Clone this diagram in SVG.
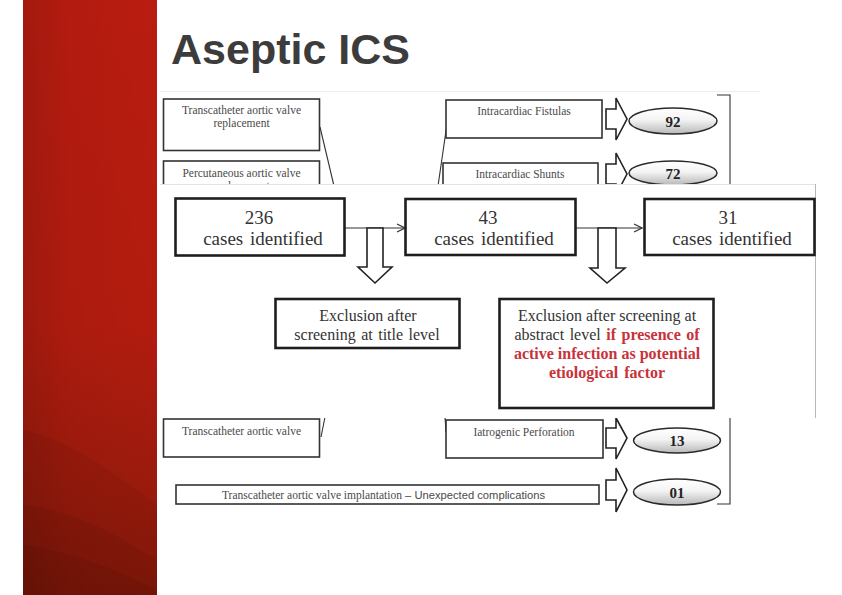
<svg xmlns="http://www.w3.org/2000/svg" width="842" height="595" viewBox="0 0 842 595">
<defs>
<linearGradient id="redV" x1="0" y1="0" x2="0" y2="1">
<stop offset="0" stop-color="#b91c10"/>
<stop offset="0.55" stop-color="#b21c0f"/>
<stop offset="1" stop-color="#8a1a0a"/>
</linearGradient>
<linearGradient id="redH" x1="0" y1="0" x2="1" y2="0">
<stop offset="0" stop-color="#000" stop-opacity="0.12"/>
<stop offset="0.35" stop-color="#000" stop-opacity="0.03"/>
<stop offset="1" stop-color="#000" stop-opacity="0"/>
</linearGradient>
<linearGradient id="ellG" x1="0" y1="0" x2="0" y2="1">
<stop offset="0" stop-color="#ffffff"/>
<stop offset="0.45" stop-color="#f4f4f4"/>
<stop offset="1" stop-color="#b8b8b8"/>
</linearGradient>
<marker id="open" markerWidth="10" markerHeight="10" refX="9" refY="5" orient="auto" markerUnits="userSpaceOnUse">
<path d="M1,1 L9,5 L1,9" fill="none" stroke="#333" stroke-width="1.2"/>
</marker>
</defs>
<style>
.bg{fill:#fff}
.sbox{fill:#fff;stroke:#333;stroke-width:1.6}
.fbox{fill:#fff;stroke:#1e1e1e;stroke-width:2.6}
.st{font-family:"Liberation Serif","Times New Roman",serif;font-size:11.5px;fill:#4a4a4a;text-anchor:middle}
.ft{font-family:"Liberation Serif","Times New Roman",serif;font-size:19px;fill:#333;text-anchor:middle}
.et{font-family:"Liberation Serif","Times New Roman",serif;font-size:16px;fill:#333;text-anchor:middle}
.red{fill:#c8323a;font-weight:bold}
.num{font-family:"Liberation Serif","Times New Roman",serif;font-size:15px;font-weight:bold;fill:#222;text-anchor:middle}
.ell{fill:url(#ellG);stroke:#2a2a2a;stroke-width:1.5}
.blk{fill:#fff;stroke:#222;stroke-width:1.6;stroke-linejoin:miter}
.ln{fill:none;stroke:#333;stroke-width:1.1}
.arr{fill:none;stroke:#333;stroke-width:1.2;marker-end:url(#open)}
</style>
<rect x="0" y="0" width="842" height="595" class="bg"/>
<g id="stripe">
<rect x="23" y="0" width="134" height="595" fill="url(#redV)"/>
<path d="M23,430 C70,440 110,470 157,505 L157,595 L23,595 Z" fill="#000" fill-opacity="0.05"/>
<path d="M23,505 C70,510 110,530 157,560 L157,595 L23,595 Z" fill="#000" fill-opacity="0.06"/>
<path d="M23,545 C60,550 110,565 157,590 L157,595 L23,595 Z" fill="#000" fill-opacity="0.06"/>
<rect x="23" y="0" width="134" height="595" fill="url(#redH)"/>
</g>
<g id="title">
<text x="171" y="64" font-family="'Liberation Sans',Arial,sans-serif" font-size="43" font-weight="bold" fill="#3c3c3c">Aseptic ICS</text>
</g>
<g id="background-figure">
<line x1="160" y1="91.5" x2="760" y2="91.5" stroke="#eeeeee" stroke-width="1"/>
<g id="connectors-bg">
<line class="ln" x1="320" y1="127" x2="334" y2="186"/>
<line class="ln" x1="447" y1="124" x2="438" y2="186"/>
<line class="ln" x1="325" y1="417" x2="321" y2="437"/>
<line class="ln" x1="445" y1="417" x2="446" y2="432"/>
<path class="ln" d="M717,95 L730,95 L730,504 L717,504"/>
<path class="blk" d="M606,109 L616,109 L616,98 L627,119 L616,140 L616,129 L606,129 Z"/>
<path class="blk" d="M606,164 L616,164 L616,153 L627,174 L616,195 L616,184 L606,184 Z"/>
<path class="blk" d="M606,428 L616,428 L616,418 L627,438 L616,459 L616,448 L606,448 Z"/>
<path class="blk" d="M606,480 L616,480 L616,468 L627,490 L616,512 L616,500 L606,500 Z"/>
</g>
<g id="tavr">
<rect class="sbox" x="163.5" y="99" width="156" height="51.5"/>
<text class="st" x="241.5" y="114">Transcatheter aortic valve</text>
<text class="st" x="241.5" y="127">replacement</text>
</g>
<g id="pavr">
<rect class="sbox" x="163.5" y="161" width="156" height="50"/>
<text class="st" x="241.5" y="177">Percutaneous aortic valve</text>
<text class="st" x="241.5" y="190">replacement</text>
</g>
<g id="fistulas">
<rect class="sbox" x="446" y="100" width="156" height="38"/>
<text class="st" x="524" y="115">Intracardiac Fistulas</text>
</g>
<g id="n92">
<ellipse class="ell" cx="673" cy="121" rx="44" ry="13"/>
<text class="num" x="673" y="126.5">92</text>
</g>
<g id="shunts">
<rect class="sbox" x="443" y="163" width="155" height="38"/>
<text class="st" x="520" y="178">Intracardiac Shunts</text>
</g>
<g id="n72">
<ellipse class="ell" cx="673" cy="173" rx="44" ry="12"/>
<text class="num" x="673" y="178.5">72</text>
</g>
<g id="tav">
<rect class="sbox" x="163.5" y="419" width="156" height="38"/>
<text class="st" x="241.5" y="435">Transcatheter aortic  valve</text>
</g>
<g id="perforation">
<rect class="sbox" x="446" y="420" width="157" height="38"/>
<text class="st" x="524" y="436">Iatrogenic Perforation</text>
</g>
<g id="n13">
<ellipse class="ell" cx="677" cy="440.5" rx="43.5" ry="12.5"/>
<text class="num" x="677" y="446">13</text>
</g>
<g id="tavi">
<rect class="sbox" x="176" y="485" width="423" height="19"/>
<text x="222" y="499" font-size="11.5" fill="#4a4a4a"><tspan font-family="'Liberation Serif','Times New Roman',serif">Transcatheter aortic valve implantation</tspan><tspan font-family="'Liberation Sans',Arial,sans-serif" font-size="11.2"> – Unexpected complications</tspan></text>
</g>
<g id="n01">
<ellipse class="ell" cx="677" cy="492" rx="43.5" ry="13"/>
<text class="num" x="677" y="497.5">01</text>
</g>
</g>
<g id="overlay">
<rect x="160" y="184" width="656" height="234" fill="#fff"/>
<line x1="160" y1="184.5" x2="816" y2="184.5" stroke="#dcdcdc" stroke-width="0.8"/>
<line x1="815.5" y1="184" x2="815.5" y2="418" stroke="#b8b8b8" stroke-width="1"/>
</g>
<g id="connectors">
<line class="arr" x1="345" y1="228" x2="405" y2="228"/>
<line class="arr" x1="576" y1="228" x2="642" y2="228"/>
<path class="blk" d="M367,228 L383,228 L383,267 L392,267 L375,283 L358,267 L367,267 Z"/>
<path class="blk" d="M598,228 L616,228 L616,268 L625,268 L607,283 L590,268 L598,268 Z"/>
</g>
<g id="box236">
<rect class="fbox" x="175.5" y="198.5" width="169" height="57"/>
<text class="ft" x="259" y="224">236</text>
<text class="ft" x="263" y="245" word-spacing="2">cases identified</text>
</g>
<g id="box43">
<rect class="fbox" x="405.5" y="199" width="170" height="56"/>
<text class="ft" x="488" y="224">43</text>
<text class="ft" x="494" y="245" word-spacing="2">cases identified</text>
</g>
<g id="box31">
<rect class="fbox" x="644.5" y="199" width="170" height="56"/>
<text class="ft" x="728" y="224">31</text>
<text class="ft" x="732" y="245" word-spacing="2">cases identified</text>
</g>
<g id="excl-title">
<rect class="fbox" x="275.5" y="299" width="184" height="49"/>
<text class="et" x="368" y="321">Exclusion after</text>
<text class="et" x="367" y="340" word-spacing="1.5">screening at title level</text>
</g>
<g id="excl-abstract">
<rect class="fbox" x="499.5" y="299" width="214" height="109"/>
<text class="et" x="607" y="321">Exclusion after screening at</text>
<text class="et" x="607" y="340" word-spacing="1.5">abstract level <tspan class="red">if presence of</tspan></text>
<text class="et red" x="607" y="359">active infection as potential</text>
<text class="et red" x="607" y="378" word-spacing="2">etiological factor</text>
</g>
</svg>
